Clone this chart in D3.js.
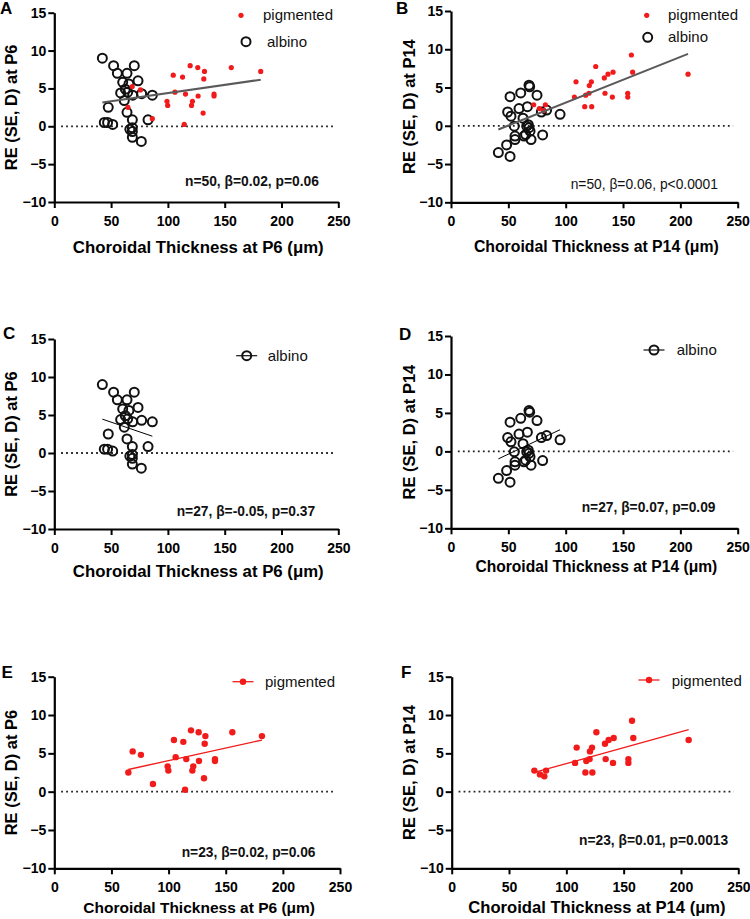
<!DOCTYPE html>
<html>
<head>
<meta charset="utf-8">
<script src="https://cdn.jsdelivr.net/npm/d3@7/dist/d3.min.js"></script>
<style>
  html, body { margin: 0; padding: 0; background: #fff; }
  svg { display: block; }
</style>
</head>
<body>
<svg id="chart" width="750" height="919"></svg>
<script>
// ---------------- DATA ----------------
const xTicks = [0, 50, 100, 150, 200, 250];
const yTicks = [-10, -5, 0, 5, 10, 15];

// albino, P6: [choroidal thickness (µm), RE (D)]
const albinoP6 = [
  [42.3, 9.0], [52.2, 8.0], [70.4, 8.0], [55.5, 7.0], [64.0, 7.0], [60.2, 5.8],
  [65.7, 5.6], [73.7, 6.0], [58.4, 4.4], [64.6, 4.5], [69.0, 4.1], [76.9, 4.3],
  [86.3, 4.1], [61.6, 3.4], [47.5, 2.5], [64.0, 1.85], [68.7, 0.85], [82.5, 0.85],
  [44.0, 0.5], [46.9, 0.5], [51.4, 0.25], [68.7, -0.2], [68.7, -0.7], [68.7, -1.45],
  [76.6, -2.0], [62.5, 4.9], [66.5, -0.4]
];
// pigmented, P6
const pigmentedP6 = [
  [64.8, 2.5], [68.6, 5.25], [75.8, 4.8], [86.3, 1.0], [99.2, 3.3], [99.8, 2.75],
  [104.7, 6.75], [106.2, 4.5], [112.9, 6.5], [114.4, 0.25], [115.5, 4.25], [119.6, 8.0],
  [120.8, 2.75], [121.6, 3.3], [126.3, 7.75], [126.6, 4.0], [131.0, 1.75], [131.6, 6.25],
  [132.2, 7.25], [140.6, 4.25], [140.6, 4.0], [155.8, 7.75], [181.7, 7.25]
];
// albino, P14
const albinoP14 = [
  [41.3, -3.5], [51.5, -4.0], [48.5, -2.5], [49.4, 1.8], [51.5, 3.8], [52.3, 1.25],
  [55.2, -0.05], [55.8, -1.35], [55.8, -1.8], [59.3, 2.25], [60.8, 4.3], [62.8, 1.0],
  [63.7, -1.35], [65.1, -1.15], [66.6, 2.5], [68.0, 5.3], [68.6, 5.1], [67.4, 0.15],
  [68.0, -0.25], [68.9, -0.7], [69.8, -1.8], [75.0, 4.0], [79.9, -1.2], [78.8, 1.8],
  [83.4, 2.05], [95.1, 1.5], [66.0, -0.05]
];
// pigmented, P14
const pigmentedP14 = [
  [72.1, 2.75], [77.0, 2.25], [80.8, 2.0], [82.3, 2.75], [107.6, 3.75], [109.0, 5.75],
  [116.6, 2.5], [117.4, 4.0], [120.3, 4.25], [120.6, 5.25], [122.4, 5.75], [122.7, 2.5],
  [126.2, 7.75], [133.7, 6.25], [134.3, 4.25], [136.9, 6.75], [140.7, 3.75], [141.3, 7.0],
  [154.1, 4.25], [154.1, 3.75], [157.3, 9.25], [158.4, 7.0], [206.7, 6.75]
];

// fitted lines: [intercept, slope]
const fitA = [2.21, 0.0217];
const fitB = [-2.95, 0.0597];
const fitC = [6.61, -0.051];
const fitD = [-3.88, 0.0704];
const fitE = [0.76, 0.0329];
const fitF = [-0.49, 0.0415];

const panelLetters = ["A", "B", "C", "D", "E", "F"];
const statTexts = [
  "n=50, β=0.02, p=0.06",
  "n=50, β=0.06, p<0.0001",
  "n=27, β=-0.05, p=0.37",
  "n=27, β=0.07, p=0.09",
  "n=23, β=0.02, p=0.06",
  "n=23, β=0.01, p=0.0013"
];
const xTitles = [
  "Choroidal Thickness at P6 (μm)", "Choroidal Thickness at P14 (μm)",
  "Choroidal Thickness at P6 (μm)", "Choroidal Thickness at P14 (μm)",
  "Choroidal Thickness at P6 (μm)", "Choroidal Thickness at P14 (μm)"
];
const yTitles = [
  "RE (SE, D) at P6", "RE (SE, D) at P14",
  "RE (SE, D) at P6", "RE (SE, D) at P14",
  "RE (SE, D) at P6", "RE (SE, D) at P14"
];
const zeroLine = [6, 246];

// ---------------- LAYOUT / STYLE ----------------
const FONT = '"Liberation Sans", Arial, Helvetica, sans-serif';
const RED = "#f21b1b";

const panels = [
  { x0: 54.3, x1: 338.3, yT: 12.7, yB: 202, letter: [0, 13.5], stat: [185, 186], statBold: true,
    xTitleY: 253, xTitleSize: 16.8, yTitleX: 17, yTitleSize: 16.5,
    series: [["alb", albinoP6], ["pig", pigmentedP6]], fit: fitA, fitStyle: ["#5a5a5a", 2],
    legend: [{ type: "pig", sx: 241, sy: 15.3, tx: 263, ty: 20, label: "pigmented" },
             { type: "alb", sx: 246, sy: 41.7, tx: 267, ty: 46.5, label: "albino" }] },
  { x0: 451, x1: 737.7, yT: 11, yB: 202.3, letter: [396, 13.5], stat: [570.7, 189], statBold: false,
    xTitleY: 252, xTitleSize: 15.8, yTitleX: 414.5, yTitleSize: 16.5,
    series: [["alb", albinoP14], ["pig", pigmentedP14]], fit: fitB, fitStyle: ["#5a5a5a", 2],
    legend: [{ type: "pig", sx: 646.7, sy: 15.3, tx: 668, ty: 20, label: "pigmented" },
             { type: "alb", sx: 647.7, sy: 37.3, tx: 668, ty: 42, label: "albino" }] },
  { x0: 54.3, x1: 338.3, yT: 339, yB: 529, letter: [3, 338.5], stat: [176.7, 516], statBold: true,
    xTitleY: 576.5, xTitleSize: 16.8, yTitleX: 17, yTitleSize: 16.5,
    series: [["alb", albinoP6]], fit: fitC, fitStyle: ["#000", 1],
    legend: [{ type: "albLine", sx: 246.7, sy: 355.7, tx: 267.7, ty: 361, label: "albino" }] },
  { x0: 451, x1: 737.7, yT: 336, yB: 528.3, letter: [399, 340], stat: [581.7, 512], statBold: true,
    xTitleY: 572, xTitleSize: 15.6, yTitleX: 414.5, yTitleSize: 16.5,
    series: [["alb", albinoP14]], fit: fitD, fitStyle: ["#000", 1],
    legend: [{ type: "albLine", sx: 654, sy: 350, tx: 676.7, ty: 355.3, label: "albino" }] },
  { x0: 54.3, x1: 340, yT: 676.7, yB: 868.3, letter: [1.5, 678], stat: [181.7, 857], statBold: true,
    xTitleY: 913, xTitleSize: 15.5, yTitleX: 17, yTitleSize: 16.5,
    series: [["pigBig", pigmentedP6]], fit: fitE, fitStyle: [RED, 1.3],
    legend: [{ type: "pigLine", sx: 243, sy: 681.7, tx: 265, ty: 687, label: "pigmented" }] },
  { x0: 451.7, x1: 738.3, yT: 676.7, yB: 868.3, letter: [401, 678], stat: [579, 844.5], statBold: true,
    xTitleY: 912.5, xTitleSize: 16.6, yTitleX: 414.5, yTitleSize: 16.5,
    series: [["pigBig", pigmentedP14]], fit: fitF, fitStyle: [RED, 1.3],
    legend: [{ type: "pigLine", sx: 649, sy: 680, tx: 671.7, ty: 685.5, label: "pigmented" }] }
];

// ---------------- DRAW ----------------
const svg = d3.select("#chart");
svg.append("rect").attr("width", 750).attr("height", 919).attr("fill", "#fff");

function drawSymbol(g, type, cx, cy) {
  if (type === "alb" || type === "albLine") {
    g.append("circle").attr("cx", cx).attr("cy", cy).attr("r", 4.5)
      .attr("fill", "none").attr("stroke", "#111").attr("stroke-width", 2);
  } else if (type === "pig") {
    g.append("circle").attr("cx", cx).attr("cy", cy).attr("r", 2.6).attr("fill", RED);
  } else {
    g.append("circle").attr("cx", cx).attr("cy", cy).attr("r", 3.2).attr("fill", RED);
  }
}

panels.forEach((p, i) => {
  const g = svg.append("g");
  const x = d3.scaleLinear().domain([0, 250]).range([p.x0, p.x1]);
  const y = d3.scaleLinear().domain([-10, 15]).range([p.yB, p.yT]);

  // zero reference line
  g.append("line")
    .attr("x1", x(zeroLine[0])).attr("x2", x(zeroLine[1]))
    .attr("y1", y(0)).attr("y2", y(0))
    .attr("stroke", "#222").attr("stroke-width", 1.8)
    .attr("stroke-dasharray", "1.8,3.2");

  // axes
  const xAxis = d3.axisBottom(x).tickValues(xTicks).tickSizeInner(6).tickSizeOuter(0).tickPadding(8);
  const yAxis = d3.axisLeft(y).tickValues(yTicks).tickSizeInner(6).tickSizeOuter(0).tickPadding(2);
  const gx = g.append("g").attr("transform", `translate(0,${p.yB})`).call(xAxis);
  const gy = g.append("g").attr("transform", `translate(${p.x0},0)`).call(yAxis);
  [gx, gy].forEach(a => {
    a.selectAll("path.domain").attr("stroke", "#000").attr("stroke-width", 2.2);
    a.selectAll(".tick line").attr("stroke", "#000").attr("stroke-width", 2);
    a.selectAll(".tick text").attr("fill", "#000")
      .style("font-family", FONT).style("font-size", "14px").style("font-weight", "bold");
  });

  // series
  p.series.forEach(([type, data]) => {
    data.forEach(d => drawSymbol(g, type, x(d[0]), y(d[1])));
  });

  // fit line across the data range
  const allX = p.series.flatMap(s => s[1].map(d => d[0]));
  const xmin = d3.min(allX), xmax = d3.max(allX);
  g.append("line")
    .attr("x1", x(xmin)).attr("y1", y(p.fit[0] + p.fit[1] * xmin))
    .attr("x2", x(xmax)).attr("y2", y(p.fit[0] + p.fit[1] * xmax))
    .attr("stroke", p.fitStyle[0]).attr("stroke-width", p.fitStyle[1]);

  // legend
  p.legend.forEach(l => {
    if (l.type === "albLine") {
      g.append("line").attr("x1", l.sx - 10.5).attr("x2", l.sx + 10.5)
        .attr("y1", l.sy).attr("y2", l.sy).attr("stroke", "#111").attr("stroke-width", 1.2);
    }
    if (l.type === "pigLine") {
      g.append("line").attr("x1", l.sx - 10.5).attr("x2", l.sx + 10.5)
        .attr("y1", l.sy).attr("y2", l.sy).attr("stroke", RED).attr("stroke-width", 1.3);
    }
    drawSymbol(g, l.type, l.sx, l.sy);
    g.append("text").attr("x", l.tx).attr("y", l.ty).text(l.label)
      .style("font-family", FONT).style("font-size", "15px").attr("fill", "#111");
  });

  // stats annotation
  g.append("text").attr("x", p.stat[0]).attr("y", p.stat[1]).text(statTexts[i])
    .style("font-family", FONT).style("font-size", "13.8px")
    .style("font-weight", p.statBold ? "bold" : "normal").attr("fill", "#111");

  // axis titles
  g.append("text").attr("x", (p.x0 + p.x1) / 2 + 2).attr("y", p.xTitleY)
    .attr("text-anchor", "middle").text(xTitles[i])
    .style("font-family", FONT).style("font-size", p.xTitleSize + "px").style("font-weight", "bold");
  g.append("text")
    .attr("transform", `translate(${p.yTitleX},${(p.yT + p.yB) / 2}) rotate(-90)`)
    .attr("text-anchor", "middle").text(yTitles[i])
    .style("font-family", FONT).style("font-size", p.yTitleSize + "px").style("font-weight", "bold");

  // panel letter
  g.append("text").attr("x", p.letter[0]).attr("y", p.letter[1]).text(panelLetters[i])
    .style("font-family", FONT).style("font-size", "17px").style("font-weight", "bold");
});
</script>
</body>
</html>
